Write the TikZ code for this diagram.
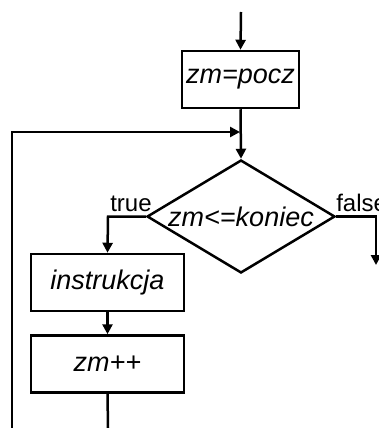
\documentclass[tikz,border=0pt]{standalone}
\usepackage{fontspec}
\setmainfont{Liberation Sans}
\usetikzlibrary{arrows.meta,shapes.geometric}
\begin{document}
\begin{tikzpicture}[x=1pt,y=-1pt,
  line width=2.5pt,
  arr/.style={-{Triangle[length=10pt,width=10pt]}},
  box/.style={draw,rectangle,inner sep=0pt,minimum width=153pt,minimum height=57pt,font=\fontsize{27}{31}\selectfont\itshape},
  dia/.style={draw,diamond,inner sep=0pt,minimum width=188pt,minimum height=113pt},
  txt/.style={font=\fontsize{27}{31}\selectfont\itshape,inner sep=0pt},
  lbl/.style={font=\fontsize{24}{28}\selectfont,inner sep=0pt,anchor=base west}]
\useasboundingbox (0,0) rectangle (379,428);
\coordinate (top) at (241,12);
\node[box,minimum width=117pt] (init) at (240.5,79.5) {zm=pocz};
\node[dia] (cond) at (241,216.5) {};
\node[txt] (condtxt) at (cond.center) {zm<=koniec};
\node[box] (body) at (107.5,282.5) {instrukcja};
\node[box] (incr) at (107.5,364) {zm++};
\coordinate (tbend) at (108,216.5);
\coordinate (fbend) at (376,216.5);
\coordinate (fend) at (376,265);
\coordinate (bend) at (108,428);
\coordinate (lbot) at (12,428);
\coordinate (ltop) at (12,132);
\coordinate (ljoin) at (240,132);
\node[lbl] (tl) at (109,211) {true};
\node[lbl] (fl) at (335,211) {false};
\draw[arr] (top) -- (init.north);
\draw[arr] (init.south) -- (cond.north);
\draw[arr] (cond.west) -- (tbend) -- (body.north);
\draw[arr] (cond.east) -- (fbend) -- (fend);
\draw[arr] (body.south) -- (incr.north);
\draw (incr.south) -- (bend);
\draw[arr] (lbot) -- (ltop) -- (ljoin);
\end{tikzpicture}
\end{document}
